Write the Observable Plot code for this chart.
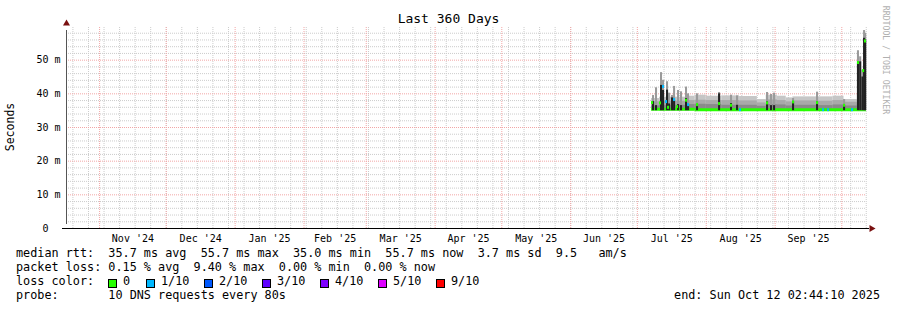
<!DOCTYPE html>
<html><head><meta charset="utf-8">
<script src="https://cdn.jsdelivr.net/npm/d3@7"></script>
<script src="https://cdn.jsdelivr.net/npm/@observablehq/plot@0.6"></script>
<style>
body{margin:0;background:#fff;}
#wrap{position:relative;width:897px;height:310px;font-family:"DejaVu Sans Mono",monospace;color:#000;overflow:hidden;background:#fff;}
#wrap svg{position:absolute;left:0;top:0;}
#wrap svg text{white-space:pre;}
.t{position:absolute;white-space:pre;line-height:1;}
.leg{font-size:11.8px;}
.box{position:absolute;width:7px;height:7px;border:1px solid #000;}
</style></head><body><div id="wrap"></div>
<script>
// ---- time frame / ticks ----
const startTime = "2024-10-17T02:44:10Z";
const endTime = "2025-10-12T02:44:10Z";
const yTicks = [0, 10, 20, 30, 40, 50];
const yTickLabels = ["0  ", "10 m", "20 m", "30 m", "40 m", "50 m"];
const monthStarts = ["2024-11-01","2024-12-01","2025-01-01","2025-02-01","2025-03-01","2025-04-01","2025-05-01","2025-06-01","2025-07-01","2025-08-01","2025-09-01","2025-10-01"];
const monthLabels = ["Nov '24","Dec '24","Jan '25","Feb '25","Mar '25","Apr '25","May '25","Jun '25","Jul '25","Aug '25","Sep '25"];

// ---- smoke (rtt distribution) segments, ms ----
const smokeStart = ["2025-07-07T09:00Z","2025-07-11T00:00Z","2025-07-23T00:00Z","2025-07-27T00:00Z","2025-08-01T00:00Z","2025-08-08T00:00Z","2025-08-16T00:00Z","2025-08-24T00:00Z","2025-08-28T00:00Z","2025-09-02T00:00Z","2025-09-06T00:00Z","2025-09-09T00:00Z","2025-09-20T00:00Z","2025-09-27T00:00Z","2025-10-02T00:00Z","2025-10-08T00:00Z"];
const smokeLow   = [35.1, 35.0, 35.0, 35.0, 35.0, 35.0, 35.0, 35.0, 35.0, 35.0, 35.0, 35.0, 35.0, 35.0, 35.0, 35.0];
const smokeDark  = [36.4, 36.6, 36.8, 36.9, 36.8, 36.6, 36.6, 36.3, 36.8, 36.7, 36.4, 36.6, 36.5, 36.7, 36.4, 37.0];
const smokeMid   = [37.6, 37.8, 38.0, 38.1, 38.0, 38.0, 37.9, 37.3, 38.2, 38.0, 37.6, 37.9, 37.8, 38.0, 37.5, 38.0];
const smokeLight = [38.6, 39.0, 39.3, 39.6, 39.3, 39.4, 39.2, 38.3, 39.6, 39.3, 38.8, 39.1, 39.1, 39.3, 38.3, 39.5];
const dataEnd = "2025-10-12T02:00Z";

// ---- spikes: dark (dense) top and gray (sparse) top, ms ----
const spikeDates = ["2025-07-08T07:00Z","2025-07-09T15:00Z","2025-07-11T21:00Z","2025-07-12T19:00Z","2025-07-14T14:00Z","2025-07-15T12:00Z","2025-07-16T20:00Z","2025-07-17T18:00Z","2025-07-19T13:00Z","2025-07-20T21:00Z","2025-07-23T03:00Z","2025-07-24T01:00Z","2025-07-28T02:00Z","2025-08-07T00:00Z","2025-08-12T09:00Z","2025-08-15T02:00Z","2025-08-28T14:00Z","2025-08-30T09:00Z","2025-08-31T18:00Z","2025-09-09T07:00Z","2025-09-20T02:00Z","2025-10-02T06:00Z","2025-10-08T12:00Z","2025-10-09T12:00Z","2025-10-10T12:00Z","2025-10-11T06:00Z","2025-10-11T18:00Z"];
const spikeDark = [37.7, 36.5, 42.5, 41.0, 41.1, 37.0, 38.8, 38.0, 36.8, 36.5, 38.6, 36.6, 36.6, 40.0, 37.1, 36.6, 37.6, 36.5, 36.5, 37.6, 37.6, 36.6, 49.0, 49.5, 45.0, 56.5, 56.0];
const spikeGray = [39.5, 41.8, 46.3, 44.0, 43.6, 40.2, 39.5, 42.2, 41.0, 40.6, 42.0, 40.0, 40.0, 40.4, 39.6, 39.4, 40.4, 39.8, 40.2, 38.6, 40.5, 38.3, 52.8, 51.0, 47.0, 58.8, 58.0];

// ---- median rtt ----
const medBaseStart = ["2025-07-07T09:00Z","2025-07-27T00:00Z"];
const medBaseEnd   = ["2025-07-27T00:00Z","2025-10-12T02:00Z"];
const medBaseValue = [35.4, 35.3];
const medDates = ["2025-07-07T20:00Z","2025-07-11T10:00Z","2025-07-12T19:00Z","2025-07-14T03:00Z","2025-07-15T01:00Z","2025-07-17T18:00Z","2025-07-19T02:00Z","2025-07-23T03:00Z","2025-07-24T01:00Z","2025-07-28T02:00Z","2025-08-07T00:00Z","2025-08-12T09:00Z","2025-08-16T10:00Z","2025-08-28T14:00Z","2025-09-09T07:00Z","2025-09-20T02:00Z","2025-09-22T19:00Z","2025-09-25T01:00Z","2025-10-02T06:00Z","2025-10-05T20:00Z","2025-10-08T12:00Z","2025-10-10T20:00Z","2025-10-11T16:00Z"];
const medValues = [37.4, 37.3, 42.2, 37.7, 36.0, 38.3, 36.2, 38.1, 36.8, 36.8, 37.1, 36.6, 35.3, 37.3, 37.6, 37.4, 35.3, 35.3, 36.6, 35.3, 49.3, 46.9, 55.7];
const medLoss   = [0, 0, 1, 1, 0, 1, 0, 0, 1, 0, 0, 0, 1, 0, 0, 0, 1, 1, 0, 1, 0, 0, 0];

// ---- legend ----
const lossLabels = ["0", "1/10", "2/10", "3/10", "4/10", "5/10", "9/10"];
const lossColors = ["#26ff00", "#00b8ff", "#0059ff", "#5e00ff", "#7e00ff", "#dd00ff", "#ff0000"];
const titleText = "Last 360 Days";
const yLabel = "Seconds";
const legendLines = [
  "median rtt:  35.7 ms avg  55.7 ms max  35.0 ms min  55.7 ms now  3.7 ms sd  9.5   am/s",
  "packet loss: 0.15 % avg  9.40 % max  0.00 % min  0.00 % now"
];
const lossTitle = "loss color:";
const probeLine = "probe:       10 DNS requests every 80s";
const endLine = "end: Sun Oct 12 02:44:10 2025";
const watermark = "RRDTOOL / TOBI OETIKER";

// ---- build tables ----
const T = s => new Date(s);
const t0 = T(startTime), t1 = T(endTime);
const smoke = smokeStart.map((s, i) => ({
  start: T(s), end: T(i + 1 < smokeStart.length ? smokeStart[i + 1] : dataEnd),
  lo: smokeLow[i], dark: smokeDark[i], mid: smokeMid[i], light: smokeLight[i]
}));
const spikes = spikeDates.map((s, i) => ({date: T(s), dark: spikeDark[i], gray: spikeGray[i], lo: 35.0}));
const medBase = medBaseStart.map((s, i) => ({start: T(s), end: T(medBaseEnd[i]), v: medBaseValue[i]}));
const medPts = medDates.map((s, i) => ({date: T(s), v: medValues[i], c: lossColors[medLoss[i]]}));
const months = monthStarts.map(T);
const monthLab = monthLabels.map((l, i) => ({label: l, x: new Date((+months[i] + +months[i + 1]) / 2)}));
const yLab = yTicks.map((v, i) => ({v, label: yTickLabels[i]}));
const minorY = d3.range(2, 60, 2).filter(v => v % 10 !== 0);
const majorY = yTicks.filter(v => v > 0);
const weeks = d3.utcSunday.range(t0, t1);
const half = d => d3.utcHour.offset(d, -11), half2 = d => d3.utcHour.offset(d, 11);

const minorCol = "#cccccc", majorCol = "#f2a6a6";
const chart = Plot.plot({
  width: 897, height: 310,
  marginTop: 26, marginBottom: 82, marginLeft: 66, marginRight: 31,
  x: {type: "utc", domain: [t0, t1], axis: null},
  y: {domain: [0, 60], axis: null},
  style: {fontFamily: "DejaVu Sans Mono", fontSize: "10px", background: "transparent", color: "#000", overflow: "visible"},
  marks: [
    Plot.ruleY(minorY, {stroke: minorCol, strokeDasharray: "1,1"}),
    Plot.ruleX(weeks, {y1: 0, y2: 60, stroke: minorCol, strokeDasharray: "1,1"}),
    Plot.ruleY(majorY, {stroke: majorCol, strokeDasharray: "1,1"}),
    Plot.ruleX(months, {y1: 0, y2: 60, stroke: majorCol, strokeDasharray: "1,1"}),
    Plot.rect(smoke, {x1: "start", x2: "end", y1: "lo", y2: "light", fill: "#c6c6c6"}),
    Plot.rect(smoke, {x1: "start", x2: "end", y1: "lo", y2: "mid", fill: "#a9a9a9"}),
    Plot.rect(smoke, {x1: "start", x2: "end", y1: "lo", y2: "dark", fill: "#8a8a8a"}),
    Plot.ruleY(medBase, {x1: "start", x2: "end", y: "v", stroke: lossColors[0], strokeWidth: 3}),
    Plot.rect(spikes, {x1: d => half(d.date), x2: d => half2(d.date), y1: "lo", y2: "gray", fill: "#9a9a9a"}),
    Plot.rect(spikes, {x1: d => half(d.date), x2: d => half2(d.date), y1: "lo", y2: "dark", fill: "#222222"}),
    Plot.ruleY(medPts, {x1: d => half(d.date), x2: d => half2(d.date), y: "v", stroke: "c", strokeWidth: 3}),
    Plot.ruleY([0], {stroke: "#000", insetLeft: -4, insetRight: -3}),
    Plot.ruleX([t0], {y1: 0, y2: 60, stroke: "#555", insetTop: -4, insetBottom: -4}),
    Plot.dot([{x: t0, y: 60}], {x: "x", y: "y", symbol: "triangle", r: 2.6, fill: "#7a1010", dy: -3}),
    Plot.dot([{x: t1, y: 0}], {x: "x", y: "y", symbol: "triangle", r: 2.6, fill: "#7a1010", rotate: 90, dx: 5}),
    Plot.text(yLab, {x: () => t0, y: "v", text: "label", textAnchor: "end", dx: -6, fill: "#000"}),
    Plot.text(monthLab, {x: "x", y: () => 0, text: "label", dy: 10, fill: "#000"})
  ]
});
const wrap = document.getElementById("wrap");
wrap.appendChild(chart);

function addText(txt, css, cls) {
  const d = document.createElement("div");
  d.className = "t " + (cls || "");
  d.textContent = txt;
  Object.assign(d.style, css);
  wrap.appendChild(d);
  return d;
}
addText(titleText, {left: "0px", width: "897px", textAlign: "center", top: "12px", fontSize: "13px"});
addText(yLabel, {left: "11px", top: "127px", fontSize: "11.5px", transform: "translate(-50%,-50%) rotate(-90deg)"});
addText(watermark, {left: "886px", top: "60px", fontSize: "8.2px", color: "#b0b0b0", transform: "translate(-50%,-50%) rotate(90deg)"});
legendLines.forEach((l, i) => addText(l, {left: "16px", top: (248 + i * 14) + "px"}, "leg"));
addText(lossTitle, {left: "16px", top: "276px"}, "leg");
lossLabels.forEach((l, i) => {
  const bx = i === 0 ? 108 : 146 + (i - 1) * 58;
  const b = document.createElement("div");
  b.className = "box";
  Object.assign(b.style, {left: bx + "px", top: "279px", background: lossColors[i]});
  wrap.appendChild(b);
  addText(l, {left: (bx + 15) + "px", top: "276px"}, "leg");
});
addText(probeLine, {left: "16px", top: "290px"}, "leg");
addText(endLine, {right: "17px", top: "290px"}, "leg");
</script></body></html>
